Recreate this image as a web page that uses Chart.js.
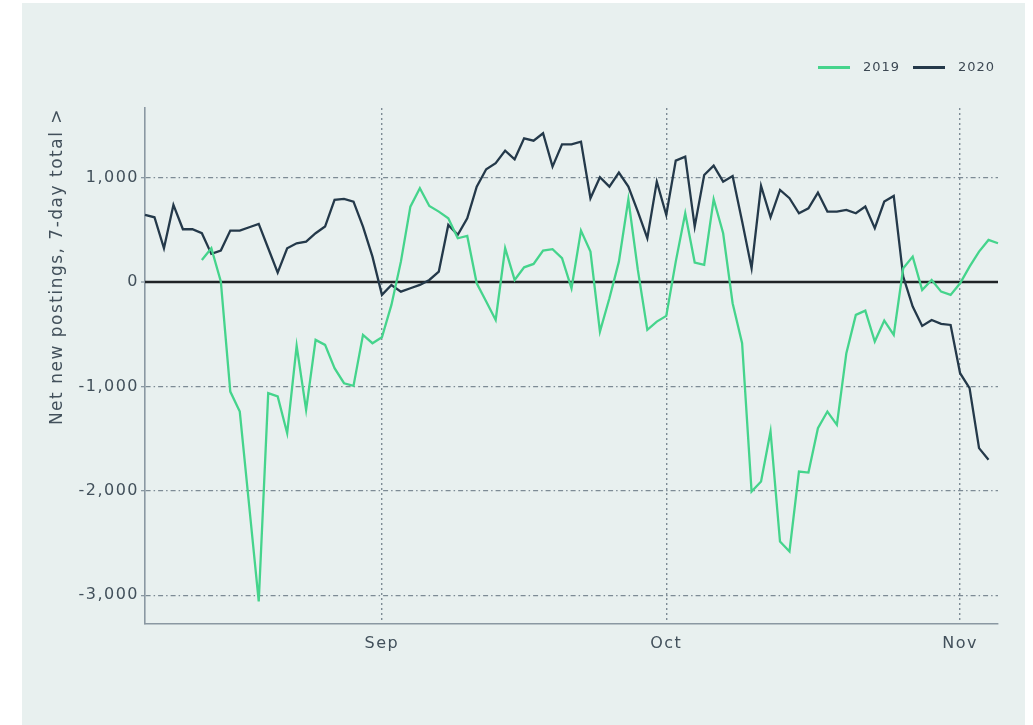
<!DOCTYPE html>
<html><head><meta charset="utf-8">
<script src="https://cdn.jsdelivr.net/npm/chart.js@4"></script>
<style>
html,body{margin:0;padding:0;background:#fff;}
body{width:1033px;height:725px;position:relative;overflow:hidden;font-family:"DejaVu Sans",sans-serif;}
#panel{position:absolute;left:22px;top:3px;width:1003px;height:722px;background:#e8f0ef;}
#wrap{position:absolute;left:0;top:0;width:1033px;height:725px;}
.lg{position:absolute;top:59px;height:16px;line-height:16px;font-size:13px;letter-spacing:1px;color:#3c4853;}
.sw{position:absolute;top:66px;height:3px;width:32px;}
</style></head><body>
<div id="panel"></div>
<div id="wrap"><canvas id="c" width="1033" height="725" style="width:1033px;height:725px"></canvas></div>
<div id="legend"></div>
<script>
// ---- data ----
const dates = [
 'Aug 7','Aug 8','Aug 9','Aug 10','Aug 11','Aug 12','Aug 13','Aug 14','Aug 15','Aug 16','Aug 17','Aug 18','Aug 19','Aug 20','Aug 21','Aug 22','Aug 23','Aug 24','Aug 25','Aug 26','Aug 27','Aug 28','Aug 29','Aug 30','Aug 31',
 'Sep 1','Sep 2','Sep 3','Sep 4','Sep 5','Sep 6','Sep 7','Sep 8','Sep 9','Sep 10','Sep 11','Sep 12','Sep 13','Sep 14','Sep 15','Sep 16','Sep 17','Sep 18','Sep 19','Sep 20','Sep 21','Sep 22','Sep 23','Sep 24','Sep 25','Sep 26','Sep 27','Sep 28','Sep 29','Sep 30',
 'Oct 1','Oct 2','Oct 3','Oct 4','Oct 5','Oct 6','Oct 7','Oct 8','Oct 9','Oct 10','Oct 11','Oct 12','Oct 13','Oct 14','Oct 15','Oct 16','Oct 17','Oct 18','Oct 19','Oct 20','Oct 21','Oct 22','Oct 23','Oct 24','Oct 25','Oct 26','Oct 27','Oct 28','Oct 29','Oct 30','Oct 31',
 'Nov 1','Nov 2','Nov 3','Nov 4','Nov 5'
];
const series2019 = [
 null,null,null,null,null,null,210,322,5,-1050,-1241,-2150,-3059,-1065,-1097,-1448,-612,-1225,-555,-603,-826,-970,-995,-507,-587,
 -530,-220,194,721,896,727,673,609,418,440,-13,-188,-364,322,19,140,172,300,313,227,-61,491,290,-476,-156,194,791,115,-459,-380,
 -325,194,657,185,163,791,466,-204,-587,-2007,-1911,-1432,-2485,-2581,-1815,-1825,-1400,-1241,-1368,-682,-316,-275,-571,-370,-507,131,242,-77,19,-93,-124,
 -13,147,290,402,370
];
const series2020 = [
 641,619,322,737,504,504,466,268,300,491,491,523,555,322,89,322,370,386,466,530,785,794,769,530,242,
 -124,-29,-93,-61,-29,19,99,545,450,609,912,1078,1136,1257,1174,1375,1352,1423,1104,1317,1317,1343,801,1002,912,1046,912,673,418,960,
 641,1161,1199,530,1024,1113,960,1014,580,131,919,619,880,801,657,705,855,673,673,689,657,721,514,769,823,51,-236,-421,-364,-402,-412,
 -874,-1017,-1591,-1703,null
];
const seriesNames = ['2019','2020'];
const seriesColors = ['#45d48c','#24394a'];
const xTickDates = ['Sep 1','Oct 1','Nov 1'];
const xTickLabels = ['Sep','Oct','Nov'];
const yTickValues = [-3000,-2000,-1000,0,1000];
const yTitle = 'Net new postings, 7-day total >';

// ---- legend (HTML) ----
const lg = document.getElementById('legend');
const lgPos = [[818,863],[913,958]];
seriesNames.forEach((n,i)=>{
  const sw=document.createElement('div');sw.className='sw';sw.style.left=lgPos[i][0]+'px';sw.style.background=seriesColors[i];lg.appendChild(sw);
  const t=document.createElement('div');t.className='lg';t.style.left=lgPos[i][1]+'px';t.textContent=n;lg.appendChild(t);
});

const SP='1.5px';
const spacing={id:'spacing',
  beforeLayout(c){c.ctx.letterSpacing=SP;},
  beforeDraw(c){c.ctx.letterSpacing=SP;}};
const zeroLine={id:'zeroLine',
  beforeDatasetsDraw(c){
    const y=c.scales.y.getPixelForValue(0);const a=c.chartArea;const ctx=c.ctx;
    ctx.save();ctx.strokeStyle='#1f2326';ctx.lineWidth=2.5;ctx.beginPath();
    ctx.moveTo(a.left,y);ctx.lineTo(a.right,y);ctx.stroke();ctx.restore();
  }};

const gridCol='#7d8b95';
const txtCol='#42505b';
new Chart(document.getElementById('c'),{
  type:'line',
  data:{labels:dates,datasets:[
    {label:seriesNames[0],data:series2019,borderColor:seriesColors[0],backgroundColor:seriesColors[0],borderWidth:2.3,pointRadius:0,tension:0,spanGaps:false},
    {label:seriesNames[1],data:series2020,borderColor:seriesColors[1],backgroundColor:seriesColors[1],borderWidth:2.3,pointRadius:0,tension:0,spanGaps:false}
  ]},
  options:{
    responsive:false,animation:false,devicePixelRatio:1,
    layout:{padding:{left:35,top:108,right:35,bottom:51}},
    plugins:{legend:{display:false},tooltip:{enabled:false}},
    scales:{
      x:{type:'category',offset:false,
        afterFit(s){s.height=50;},
        afterBuildTicks(s){s.ticks=xTickDates.map(d=>({value:dates.indexOf(d)}));},
        grid:{drawTicks:false,color:gridCol,lineWidth:1.4,offset:false},
        border:{display:true,color:'#8a98a2',width:1.6,dash:[2,3]},
        ticks:{autoSkip:false,maxRotation:0,padding:10,color:txtCol,font:{family:'"DejaVu Sans", sans-serif',size:16},
          callback:v=>xTickLabels[xTickDates.indexOf(dates[v])]}
      },
      y:{type:'linear',min:-3275,max:1665,
        afterFit(s){s.width=110;},
        afterBuildTicks(s){s.ticks=yTickValues.map(v=>({value:v}));},
        grid:{drawTicks:true,tickLength:4,tickWidth:1.3,tickColor:'#8a98a2',color:gridCol,lineWidth:c=>c.tick&&c.tick.value===0?0:1.3},
        border:{display:true,color:'#8a98a2',width:1.6,dash:[5,3,1.5,3]},
        ticks:{padding:2,color:txtCol,font:{family:'"DejaVu Sans", sans-serif',size:16},
          callback:v=>Number(v).toLocaleString('en-US')},
        title:{display:true,text:yTitle,align:'end',color:txtCol,padding:{top:12,bottom:0},font:{family:'"DejaVu Sans", sans-serif',size:17}}
      }
    }
  },
  plugins:[spacing,zeroLine]
});
</script>
</body></html>
